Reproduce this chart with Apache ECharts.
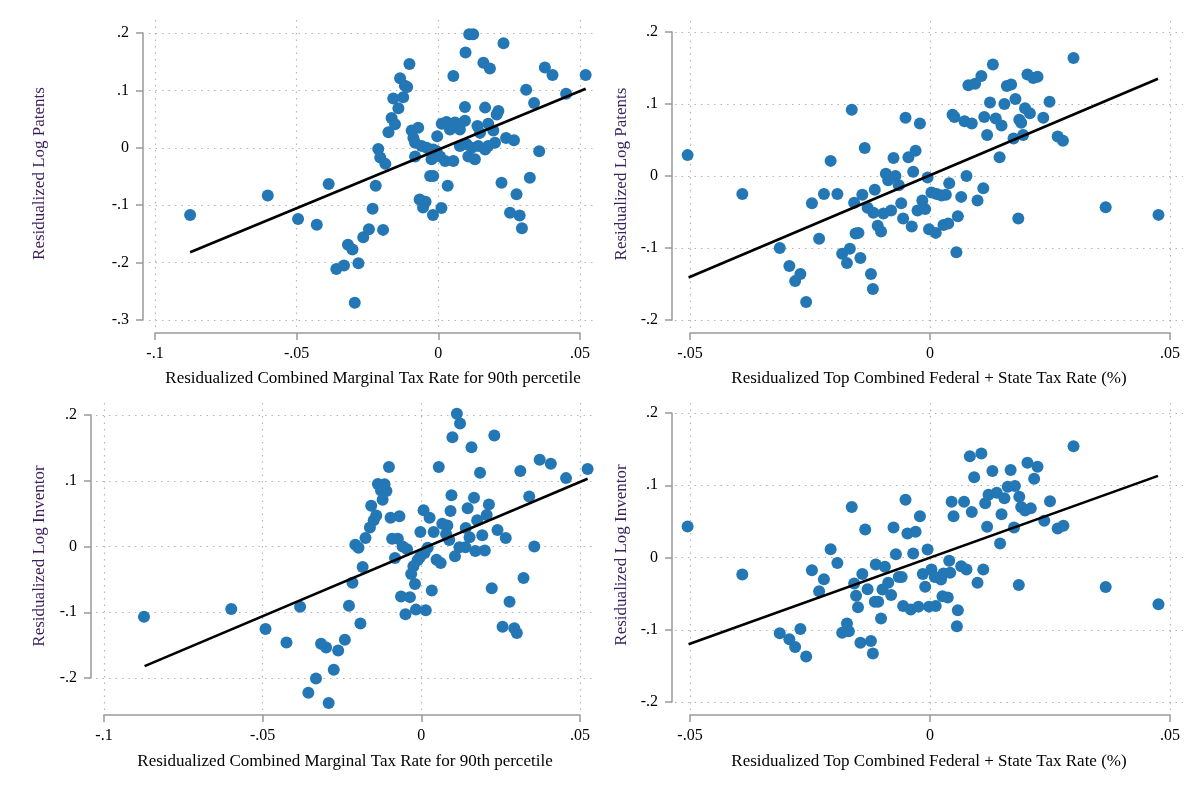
<!DOCTYPE html>
<html><head><meta charset="utf-8">
<script src="https://cdn.jsdelivr.net/npm/echarts@6/dist/echarts.min.js"></script>
<style>html,body{margin:0;padding:0;background:#fff}#c{width:1200px;height:800px}</style>
</head><body><div id="c"></div>
<script>
// ---- data ----
const patentsVsMtr90 = [
[-0.0876,-0.117],[-0.0602,-0.083],[-0.0387,-0.063],[-0.0495,-0.124],[-0.0429,-0.134],
[-0.0360,-0.211],[-0.0333,-0.205],[-0.0319,-0.169],[-0.0303,-0.177],[-0.0295,-0.270],
[-0.0282,-0.201],[-0.0265,-0.156],[-0.0245,-0.142],[-0.0232,-0.106],[-0.0221,-0.066],
[-0.0195,-0.143],[-0.0212,-0.002],[-0.0205,-0.017],[-0.0187,-0.028],[-0.0176,0.027],
[-0.0165,0.052],[-0.0153,0.041],[-0.0159,0.086],[-0.0141,0.069],[-0.0135,0.121],
[-0.0124,0.088],[-0.0118,0.108],[-0.0110,0.106],[-0.0102,0.146],[-0.0094,0.030],
[-0.0071,0.035],[-0.0088,0.017],[-0.0082,0.009],[-0.0059,0.003],[-0.0082,-0.015],
[-0.0041,0.000],[-0.0018,-0.003],[-0.0006,-0.006],[-0.0004,0.020],[-0.0024,-0.020],
[0.0006,-0.015],[0.0024,-0.023],[0.0053,-0.023],[-0.0029,-0.049],[-0.0018,-0.049],
[0.0033,-0.066],[-0.0066,-0.090],[-0.0045,-0.094],[-0.0054,-0.104],[-0.0019,-0.117],
[0.0011,-0.105],
[0.0012,0.042],[0.0029,0.045],[0.0059,0.044],[0.0076,0.041],[0.0094,0.047],[0.0041,0.032],[0.0076,0.032],
[0.0138,0.038],[0.0176,0.042],[0.0194,0.030],[0.0147,0.026],
[0.0094,0.071],[0.0165,0.070],[0.0212,0.064],[0.0206,0.058],
[0.0076,0.003],[0.0100,0.006],[0.0118,0.000],[0.0141,0.003],[0.0165,-0.003],[0.0200,0.009],[0.0176,0.003],
[0.0106,-0.015],[0.0129,-0.020],
[0.0239,0.017],[0.0267,0.013],[0.0356,-0.006],[0.0223,-0.061],[0.0323,-0.052],[0.0276,-0.081],
[0.0053,0.125],[0.0096,0.166],[0.0109,0.198],[0.0123,0.198],[0.0159,0.148],[0.0182,0.138],
[0.0230,0.182],[0.0310,0.101],[0.0338,0.078],[0.0376,0.140],[0.0403,0.127],[0.0451,0.094],
[0.0520,0.127],[0.0253,-0.113],[0.0287,-0.118],[0.0295,-0.140]
];
const patentsVsTopRate = [
[-0.0505,0.029],[-0.0391,-0.025],[-0.0313,-0.100],[-0.0293,-0.125],[-0.0281,-0.146],
[-0.0270,-0.136],[-0.0258,-0.175],[-0.0246,-0.038],[-0.0231,-0.087],[-0.0221,-0.025],
[-0.0207,0.021],[-0.0193,-0.025],[-0.0183,-0.108],[-0.0167,-0.101],[-0.0173,-0.121],
[-0.0163,0.092],[-0.0158,-0.037],[-0.0155,-0.080],[-0.0149,-0.079],[-0.0145,-0.114],
[-0.0123,-0.136],[-0.0119,-0.157],
[-0.0136,0.039],[-0.0076,0.025],[-0.0045,0.026],[-0.0030,0.035],[-0.0092,0.003],
[-0.0072,0.000],[-0.0087,-0.006],[-0.0035,0.006],[-0.0005,-0.002],[-0.0065,-0.013],
[-0.0115,-0.019],[-0.0141,-0.026],[-0.0130,-0.044],[-0.0118,-0.051],[-0.0097,-0.052],
[-0.0081,-0.048],[-0.0060,-0.038],[-0.0056,-0.059],[-0.0038,-0.070],[-0.0026,-0.048],
[-0.0010,-0.046],[-0.0016,-0.034],[0.0003,-0.023],[0.0014,-0.025],[0.0024,-0.027],
[0.0033,-0.026],[0.0040,-0.010],[0.0065,-0.029],[0.0076,0.000],[0.0099,-0.034],
[0.0111,-0.017],[0.0058,-0.056],[-0.0002,-0.074],[0.0012,-0.079],[0.0028,-0.068],
[0.0038,-0.066],[-0.0109,-0.069],[-0.0102,-0.077],[0.0055,-0.106],
[-0.0051,0.081],[-0.0021,0.073],[0.0047,0.085],[0.0051,0.082],[0.0072,0.076],[0.0087,0.073],
[0.0125,0.102],[0.0155,0.100],[0.0178,0.107],[0.0113,0.082],[0.0137,0.080],[0.0149,0.070],
[0.0198,0.094],[0.0208,0.087],[0.0186,0.078],[0.0190,0.074],[0.0236,0.081],[0.0249,0.103],
[0.0266,0.055],[0.0277,0.049],[0.0119,0.057],[0.0174,0.052],[0.0194,0.057],[0.0145,0.026],
[0.0184,-0.059],
[0.0131,0.155],[0.0107,0.139],[0.0080,0.126],[0.0094,0.128],[0.0160,0.125],[0.0169,0.127],
[0.0203,0.141],[0.0215,0.136],[0.0224,0.138],[0.0299,0.164],
[0.0366,-0.0435],[0.0476,-0.054]
];
const inventorsVsMtr90 = [
[-0.0874,-0.107],[-0.0599,-0.095],[-0.0491,-0.1255],[-0.0425,-0.146],[-0.0382,-0.0915],
[-0.0316,-0.148],[-0.0300,-0.1535],[-0.0262,-0.158],[-0.0241,-0.142],[-0.0332,-0.2007],
[-0.0276,-0.1875],[-0.0356,-0.2226],[-0.0292,-0.238],[-0.0228,-0.090],[-0.0192,-0.117],
[-0.0217,-0.055],[-0.0185,-0.031],[-0.0208,0.0026],[-0.0198,-0.002],[-0.0176,0.013],
[-0.0162,0.029],[-0.0158,0.062],[-0.0150,0.040],[-0.0142,0.047],[-0.0137,0.095],
[-0.0116,0.0946],[-0.0127,0.085],[-0.0110,0.0844],[-0.0122,0.071],[-0.0102,0.121],
[-0.0097,0.0437],[-0.0069,0.046],[-0.0092,0.0117],[-0.0074,0.0117],[-0.0083,-0.0175],
[0.0020,-0.002],[0.0010,-0.010],[-0.0004,-0.016],[-0.0012,-0.021],[-0.0025,-0.030],
[-0.0032,-0.042],[-0.0020,-0.057],[-0.0059,0.000],[-0.0045,-0.004],
[-0.0003,0.022],[0.0007,0.055],[0.0026,0.0437],[0.0039,0.022],[0.0066,0.0345],[0.0082,0.032],
[0.0078,0.019],[0.0088,0.010],[0.0095,0.078],[0.0092,0.054],
[0.0048,-0.020],[0.0061,-0.025],[0.0033,-0.067],
[-0.0064,-0.076],[-0.0036,-0.077],[-0.0050,-0.103],[-0.0017,-0.096],[0.0014,-0.097],
[0.0106,-0.015],[0.0120,-0.001],[0.0139,-0.001],[0.0170,-0.007],[0.0200,-0.006],
[0.0055,0.121],[0.0098,0.166],[0.0112,0.202],[0.0122,0.187],[0.0158,0.151],[0.0230,0.169],
[0.0185,0.112],[0.0312,0.115],[0.0373,0.132],[0.0408,0.126],[0.0456,0.104],[0.0524,0.118],
[0.0340,0.076],
[0.0146,0.058],[0.0166,0.074],[0.0176,0.040],[0.0213,0.064],[0.0206,0.048],[0.0140,0.028],
[0.0152,0.014],[0.0192,0.017],[0.0240,0.025],[0.0266,0.013],[0.0356,0.000],
[0.0222,-0.0635],[0.0278,-0.084],[0.0322,-0.048],[0.0256,-0.122],[0.0293,-0.1245],[0.0301,-0.1316]
];
const inventorsVsTopRate = [
[-0.0505,0.043],[-0.0391,-0.0235],[-0.0313,-0.105],[-0.0293,-0.113],[-0.0281,-0.124],
[-0.0270,-0.099],[-0.0258,-0.137],[-0.0246,-0.0176],[-0.0231,-0.0467],[-0.0221,-0.030],
[-0.0207,0.0115],[-0.0193,-0.0075],[-0.0183,-0.104],[-0.0169,-0.102],[-0.0173,-0.0914],
[-0.0163,0.070],[-0.0158,-0.036],[-0.0154,-0.053],[-0.0150,-0.069],[-0.0145,-0.118],
[-0.0123,-0.1155],[-0.0119,-0.133],[-0.0135,0.0388],[0.0185,-0.038],[0.0056,-0.095],
[0.0366,-0.0407],[0.0476,-0.0647],[0.0299,0.154],[0.0083,0.140],[0.0107,0.144],
[0.0250,0.078],[0.0266,0.040],[0.0278,0.044],[0.0238,0.051],[0.0146,0.0194],
[0.0092,0.111],[0.0130,0.1196],[0.0168,0.121],[0.0203,0.131],[0.0224,0.1256],[0.0217,0.109],
[-0.0051,0.080],[-0.0021,0.057],[0.0045,0.077],[0.0071,0.077],[0.0049,0.057],[0.0087,0.063],
[0.0115,0.075],[0.0122,0.087],[0.0139,0.0896],[0.0155,0.082],[0.0162,0.098],[0.0177,0.099],
[0.0186,0.084],[0.0190,0.070],[0.0198,0.065],[0.0210,0.068],[0.0149,0.060],[0.0119,0.0425],
[0.0175,0.0415],
[-0.0076,0.0415],[-0.0047,0.0332],[-0.0030,0.0355],[-0.0071,0.0046],[-0.0035,0.0055],
[-0.0005,0.011],[-0.0113,-0.0097],[-0.0094,-0.0129],[-0.0141,-0.023],[-0.0130,-0.044],
[-0.0115,-0.0614],[-0.0108,-0.0614],[-0.0099,-0.0443],[-0.0087,-0.035],[-0.0081,-0.052],
[-0.0102,-0.0845],[-0.0065,-0.027],[-0.0059,-0.027],[-0.0056,-0.067],[-0.0040,-0.072],
[-0.0024,-0.068],[-0.0002,-0.068],[0.0012,-0.067],[-0.0015,-0.023],[-0.0010,-0.0406],
[0.0003,-0.0166],[0.0010,-0.027],[0.0023,-0.0305],[0.0028,-0.022],[0.0042,-0.021],
[0.0040,-0.0046],[0.0026,-0.0535],[0.0037,-0.0554],[0.0065,-0.012],[0.0076,-0.0166],
[0.0111,-0.0166],[0.0099,-0.035],[0.0058,-0.073]
];
// fitted lines (end points)
const fitPatentsMtr90 = [[-0.0876,-0.182],[0.052,0.103]];
const fitPatentsTop = [[-0.0503,-0.141],[0.0475,0.135]];
const fitInventorsMtr90 = [[-0.0872,-0.182],[0.0524,0.103]];
const fitInventorsTop = [[-0.0503,-0.120],[0.0475,0.113]];
// tick values
const xTicksMtr90 = [-0.1,-0.05,0,0.05];
const xTicksTop = [-0.05,0,0.05];
const yTicksPatentsMtr = [-0.3,-0.2,-0.1,0,0.1,0.2];
const yTicksStd = [-0.2,-0.1,0,0.1,0.2];
// titles
const xTitleMtr90 = 'Residualized Combined Marginal Tax Rate for 90th percetile';
const xTitleTop = 'Residualized Top Combined Federal + State Tax Rate (%)';
const yTitlePatents = 'Residualized Log Patents';
const yTitleInventor = 'Residualized Log Inventor';

// ---- layout ----
const panels = [
  {pts:patentsVsMtr90, fit:fitPatentsMtr90, xt:xTicksMtr90, yt:yTicksPatentsMtr, xn:xTitleMtr90, yn:yTitlePatents,
   box:[155,33,425,287], pad:[6,17,13,7], yOff:12, xOff:13, yGap:101, xGap:43},
  {pts:patentsVsTopRate, fit:fitPatentsTop, xt:xTicksTop, yt:yTicksStd, xn:xTitleTop, yn:yTitlePatents,
   box:[690,32,480,288], pad:[15,13,12,8], yOff:18, xOff:13, yGap:45, xGap:42},
  {pts:inventorsVsMtr90, fit:fitInventorsMtr90, xt:xTicksMtr90, yt:yTicksStd, xn:xTitleMtr90, yn:yTitleInventor,
   box:[104,415,476,263], pad:[8,14,13,32], yOff:13, xOff:37, yGap:48, xGap:43},
  {pts:inventorsVsTopRate, fit:fitInventorsTop, xt:xTicksTop, yt:yTicksStd, xn:xTitleTop, yn:yTitleInventor,
   box:[690,413,480,289], pad:[15,13,13,8], yOff:18, xOff:13, yGap:45, xGap:43}
];
const FONT = 'Liberation Serif';
const AX = '#999999';
function fmt(v){
  let s = String(+(+v).toFixed(4));
  if (s.startsWith('0.')) s = s.slice(1);
  else if (s.startsWith('-0.')) s = '-' + s.slice(2);
  return s;
}
const grid=[], xAxis=[], yAxis=[], series=[];
panels.forEach((p,i)=>{
  const [l,t,w,h] = p.box, [pl,pr,pt,pb] = p.pad;
  const x0=p.xt[0], x1=p.xt[p.xt.length-1], y0=p.yt[0], y1=p.yt[p.yt.length-1];
  const xPer=(x1-x0)/w, yPer=(y1-y0)/h;
  const gA=2*i, gB=2*i+1;
  grid.push({left:l-pl, top:t-pt, width:w+pl+pr, height:h+pt+pb, outerBoundsMode:'none', containLabel:false});
  grid.push({left:l, top:t, width:w, height:h, outerBoundsMode:'none', containLabel:false});
  xAxis.push({gridIndex:gA, type:'value', min:x0-pl*xPer, max:x1+pr*xPer,
    axisLine:{show:false, onZero:false}, axisTick:{show:false}, axisLabel:{show:false}, splitLine:{show:false},
    name:p.xn, nameLocation:'middle', nameGap:p.xGap,
    nameTextStyle:{fontFamily:FONT, fontSize:17, color:'#000'}});
  yAxis.push({gridIndex:gA, type:'value', min:y0-pb*yPer, max:y1+pt*yPer,
    axisLine:{show:false, onZero:false}, axisTick:{show:false}, axisLabel:{show:false}, splitLine:{show:false},
    name:p.yn, nameLocation:'middle', nameGap:p.yGap,
    nameTextStyle:{fontFamily:FONT, fontSize:17, color:'#3a1f5c'}});
  xAxis.push({gridIndex:gB, type:'value', position:'bottom', min:x0, max:x1, interval:0.05, offset:p.xOff,
    axisLine:{show:true, onZero:false, lineStyle:{color:AX, width:1.5}},
    axisTick:{show:true, length:7, lineStyle:{color:AX, width:1.5}},
    axisLabel:{formatter:fmt, margin:13, color:'#000', fontFamily:FONT, fontSize:16},
    splitLine:{show:false}});
  yAxis.push({gridIndex:gB, type:'value', position:'left', min:y0, max:y1, interval:0.1, offset:p.yOff,
    axisLine:{show:true, onZero:false, lineStyle:{color:AX, width:1.5}},
    axisTick:{show:true, length:7, lineStyle:{color:AX, width:1.5}},
    axisLabel:{formatter:fmt, margin:14, color:'#000', fontFamily:FONT, fontSize:16},
    splitLine:{show:false}});
  series.push({type:'scatter', xAxisIndex:2*i, yAxisIndex:2*i, data:p.pts, symbolSize:12, clip:false, z:2,
    itemStyle:{color:'#2377b4', opacity:1}, emphasis:{disabled:true},
    markLine:{silent:true, symbol:'none', z:1, animation:false, label:{show:false},
      lineStyle:{type:[1.5,5], color:'#b5b5b5', width:1.2},
      emphasis:{disabled:true},
      data:[...p.xt.map(v=>({xAxis:v})), ...p.yt.map(v=>({yAxis:v}))]}});
  series.push({type:'line', xAxisIndex:2*i, yAxisIndex:2*i, data:p.fit, symbol:'none', z:3, clip:false,
    lineStyle:{color:'#000', width:2.6}, emphasis:{disabled:true}});
});
const chart = echarts.init(document.getElementById('c'), null, {renderer:'canvas'});
chart.setOption({backgroundColor:'#fff', animation:false, grid, xAxis, yAxis, series});
</script></body></html>
